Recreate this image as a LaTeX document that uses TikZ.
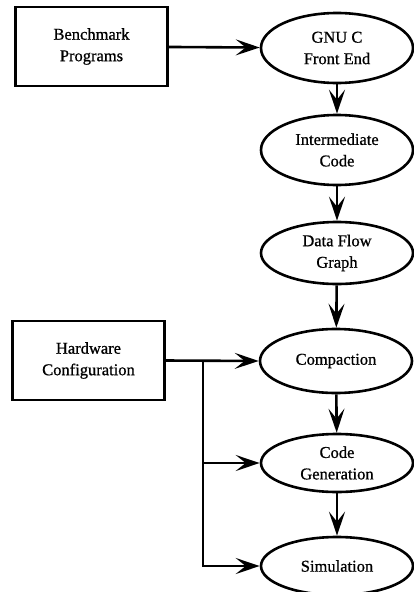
\documentclass[tikz,border=0pt]{standalone}
\usepackage{fontspec}
\setmainfont{Liberation Serif}[BoldFont={Liberation Serif}, BoldFeatures={FakeBold=0.8}]
\usetikzlibrary{shapes.geometric,arrows.meta}
\begin{document}
\begin{tikzpicture}[x=1pt,y=-1pt,
  every node/.style={font=\fontsize{16.5}{21.5}\selectfont\bfseries, align=center, inner sep=0pt},
  boxnode/.style={draw, line width=2.6pt, minimum width=152pt, minimum height=79pt},
  ovalnode/.style={draw, ellipse, line width=2.6pt, minimum width=152pt, minimum height=66pt},
  conn/.style={line width=2.6pt, -{Stealth[length=24pt,width=16pt,inset=10pt]}},
  wire/.style={line width=2.6pt}]
\useasboundingbox (0,0) rectangle (414,592);
\node[boxnode] (bench) at (91.5,46.5) {Benchmark\\Programs};
\node[boxnode] (hw) at (88.5,360.5) {Hardware\\Configuration};
\node[ovalnode, minimum height=70pt] (gnu) at (337,48) {GNU C\\Front End};
\node[ovalnode, minimum height=70pt] (inter) at (337,150) {Intermediate\\Code};
\node[ovalnode, minimum height=62pt] (dfg) at (337,253) {Data Flow\\Graph};
\node[ovalnode, minimum height=64pt] (comp) at (336,361) {Compaction};
\node[ovalnode, minimum height=58pt] (cg) at (337,463) {Code\\Generation};
\node[ovalnode, minimum height=58pt] (sim) at (337,566) {Simulation};
\coordinate (j) at (203,361);
\draw[conn] (bench) -- (gnu);
\draw[conn] (gnu) -- (inter);
\draw[conn] (inter) -- (dfg);
\draw[conn] (dfg) -- (comp);
\draw[conn] (comp) -- (cg);
\draw[conn] (cg) -- (sim);
\draw[conn] (hw.east) -- (comp.west);
\draw[wire] (j) -- (j |- sim.west);
\draw[conn] (j) |- (cg.west);
\draw[conn] (j) |- (sim.west);
\end{tikzpicture}
\end{document}
